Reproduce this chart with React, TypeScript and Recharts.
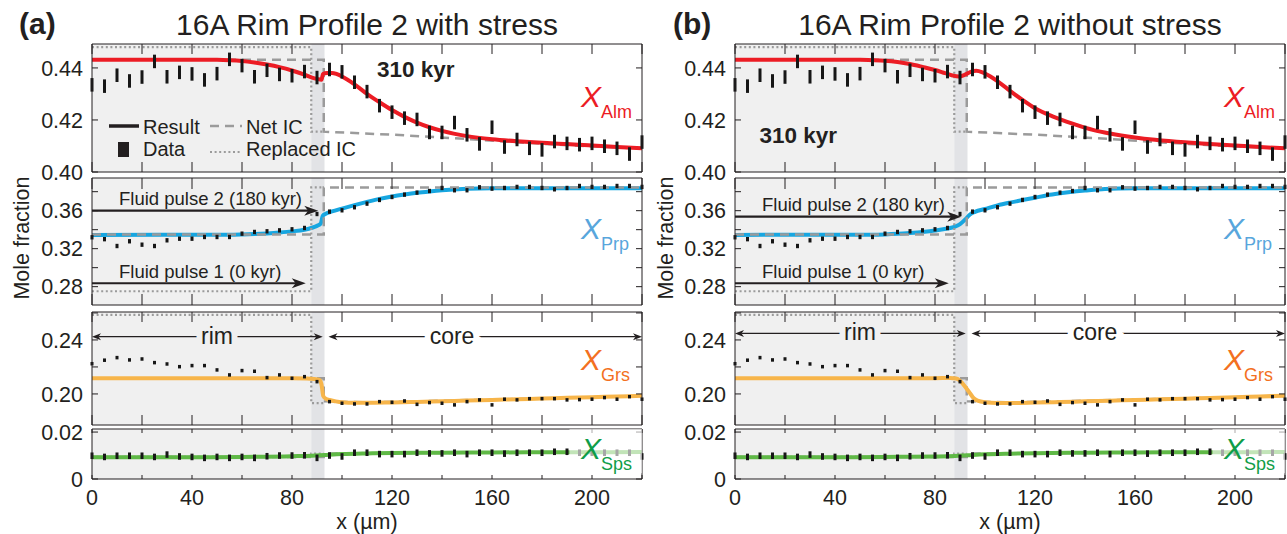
import React from "react";
import {
  ComposedChart,
  Line,
  Scatter,
  ErrorBar,
  XAxis,
  YAxis,
  ReferenceArea,
  ReferenceLine,
  ReferenceDot,
} from "recharts";

const INK = "#231f20";
const IC_GRAY = "#9b9b9b";
const RIM_BG = "#f0f0f0";
const BAND_BG = "#e2e3e6";
const FONT = '"Liberation Sans", Arial, Helvetica, sans-serif';

const ALM_LINE = "#ec1c24";
const PRP_LINE = "#17a6e0";
const PRP_TEXT = "#58a6dc";
const GRS_LINE = "#f7b54a";
const GRS_TEXT = "#f37021";
const SPS_LINE = "#5fb946";
const SPS_TEXT = "#0f9d48";

const RIM_END = 87.7;
const BAND_END = 93;
const X_TICKS = [0, 20, 40, 60, 80, 100, 120, 140, 160, 180, 200, 220];

// measured positions along the profile (µm)
const DIST = [
  0, 5, 10, 15, 20, 25, 30, 35, 40, 45, 50, 55, 60, 65, 70, 75, 80, 85, 90, 95, 100, 105,
  110, 115, 120, 125, 130, 135, 140, 145, 150, 155, 160, 165, 170, 175, 180, 185, 190, 195,
  200, 205, 210, 215, 220,
];

// microprobe data
const ALM_DATA = [
  0.4335, 0.433, 0.4372, 0.435, 0.4365, 0.4425, 0.4366, 0.4383, 0.4377, 0.4354, 0.4378,
  0.4433, 0.4409, 0.4366, 0.4391, 0.4375, 0.437, 0.4386, 0.4363, 0.4394, 0.4385, 0.4345,
  0.4309, 0.4255, 0.423, 0.4207, 0.4202, 0.4152, 0.4152, 0.419, 0.4143, 0.4108, 0.4172,
  0.4096, 0.4125, 0.4091, 0.4085, 0.4117, 0.411, 0.4105, 0.411, 0.4099, 0.4091, 0.4069, 0.4115,
];
const PRP_DATA = [
  0.332, 0.33, 0.3228, 0.3278, 0.3242, 0.3228, 0.3288, 0.3305, 0.3305, 0.3323, 0.3323,
  0.3323, 0.3358, 0.3376, 0.3383, 0.3393, 0.3404, 0.3418, 0.3565, 0.359, 0.3604, 0.3636,
  0.3674, 0.3713, 0.3744, 0.3769, 0.379, 0.3807, 0.3839, 0.3815, 0.3815, 0.3846, 0.3832,
  0.3839, 0.385, 0.385, 0.3839, 0.3825, 0.3839, 0.386, 0.385, 0.385, 0.386, 0.386, 0.385,
];
const GRS_DATA = [
  0.2224, 0.225, 0.2269, 0.2252, 0.2259, 0.2232, 0.2222, 0.2202, 0.221, 0.221, 0.2178,
  0.2141, 0.2173, 0.2168, 0.2121, 0.2141, 0.2116, 0.2128, 0.2091, 0.1943, 0.1931, 0.1926,
  0.1926, 0.1943, 0.1938, 0.1948, 0.1923, 0.1936, 0.1931, 0.1919, 0.1943, 0.1956, 0.1919,
  0.1961, 0.1956, 0.1965, 0.1965, 0.1965, 0.1956, 0.1958, 0.1961, 0.1973, 0.1961, 0.198, 0.1961,
];
const SPS_DATA = [
  0.0099, 0.0094, 0.0099, 0.0099, 0.0099, 0.0094, 0.0104, 0.0096, 0.0094, 0.009, 0.0094,
  0.009, 0.0094, 0.009, 0.0097, 0.01, 0.01, 0.0101, 0.009, 0.01, 0.0096, 0.0112, 0.0112,
  0.0106, 0.0106, 0.0106, 0.0112, 0.0109, 0.0109, 0.0112, 0.0106, 0.0112, 0.0112, 0.0108,
  0.0112, 0.0112, 0.0112, 0.0116, 0.0116, 0.0112, 0.0112, 0.0112, 0.0112, 0.0112, 0.0096,
];
const ALM_ERR = 0.0026;
const PRP_ERR = 0.0023;
const GRS_ERR = 0.0013;
const SPS_ERR = 0.0014;

// model results, with stress (a)
const ALM_A_X = [0, 50, 55, 60, 65, 70, 75, 80, 85, 88, 90, 91.8, 92.4, 94, 96, 98, 100, 105, 110, 115, 120, 125, 130, 135, 140, 150, 160, 170, 180, 190, 200, 210, 220];
const ALM_A_Y = [0.4431, 0.4431, 0.443, 0.4427, 0.4421, 0.4413, 0.4403, 0.439, 0.4374, 0.4363, 0.4358, 0.4355, 0.4377, 0.4381, 0.4381, 0.4376, 0.4367, 0.4337, 0.43, 0.4268, 0.4238, 0.4212, 0.419, 0.4172, 0.4158, 0.4138, 0.4126, 0.4118, 0.4112, 0.4108, 0.4102, 0.4096, 0.4091];
const PRP_A_X = [0, 55, 60, 65, 70, 75, 80, 85, 88, 90, 91.5, 92.3, 93.5, 96, 100, 105, 110, 115, 120, 125, 130, 135, 140, 150, 160, 180, 220];
const PRP_A_Y = [0.3345, 0.3346, 0.3349, 0.3354, 0.3361, 0.337, 0.3382, 0.34, 0.342, 0.344, 0.3465, 0.3545, 0.3568, 0.3592, 0.3622, 0.3658, 0.3692, 0.3724, 0.375, 0.3771, 0.3789, 0.3803, 0.3815, 0.383, 0.3836, 0.3837, 0.3837];
const GRS_A_X = [0, 80, 86, 89, 91, 91.8, 92.5, 93.5, 95, 97.5, 100, 105, 110, 120, 130, 140, 150, 160, 170, 180, 190, 200, 210, 220];
const GRS_A_Y = [0.2117, 0.2117, 0.2115, 0.211, 0.2104, 0.207, 0.1985, 0.1965, 0.1955, 0.1945, 0.1938, 0.1934, 0.1934, 0.1937, 0.1941, 0.1946, 0.1951, 0.1956, 0.1961, 0.1966, 0.1971, 0.1976, 0.1981, 0.1986];
const SPS_A_X = [0, 40, 60, 70, 80, 88, 93, 100, 110, 120, 140, 160, 180, 200, 220];
const SPS_A_Y = [0.0093, 0.0093, 0.0094, 0.0095, 0.0097, 0.0099, 0.0102, 0.0106, 0.0109, 0.0111, 0.0112, 0.0113, 0.0114, 0.0114, 0.0115];

// model results, without stress (b)
const ALM_B_X = [0, 50, 55, 60, 65, 70, 75, 80, 84, 87, 89.5, 92, 94.5, 96.5, 99, 102, 106, 110, 115, 120, 127, 135, 143.5, 150, 160, 168, 180, 190, 200, 210, 220];
const ALM_B_Y = [0.4431, 0.4431, 0.443, 0.4428, 0.4423, 0.4415, 0.4404, 0.4392, 0.438, 0.4371, 0.4367, 0.4374, 0.4386, 0.4389, 0.4383, 0.4368, 0.4342, 0.4312, 0.4277, 0.4245, 0.4214, 0.4186, 0.4161, 0.4148, 0.4133, 0.4124, 0.4114, 0.4108, 0.4102, 0.4096, 0.4091];
const PRP_B_X = [0, 55, 60, 65, 70, 75, 80, 85, 88, 90, 92, 94, 96, 100, 105, 110, 115, 120, 125, 130, 135, 140, 148, 160, 180, 220];
const PRP_B_Y = [0.3345, 0.3347, 0.335, 0.3356, 0.3365, 0.3376, 0.3391, 0.3412, 0.3433, 0.3458, 0.3505, 0.356, 0.3588, 0.3618, 0.3655, 0.3685, 0.3712, 0.3737, 0.3762, 0.3782, 0.38, 0.3812, 0.3828, 0.3835, 0.3837, 0.3837];
const GRS_B_X = [0, 80, 86, 88.5, 90, 92, 94, 95.5, 97, 100, 105, 110, 120, 130, 140, 150, 160, 170, 180, 190, 200, 210, 220];
const GRS_B_Y = [0.2117, 0.2117, 0.2118, 0.2114, 0.2098, 0.2055, 0.2005, 0.1968, 0.195, 0.1938, 0.1933, 0.1933, 0.1936, 0.194, 0.1945, 0.195, 0.1955, 0.196, 0.1965, 0.197, 0.1975, 0.1981, 0.1987];
const SPS_B_X = [0, 40, 60, 70, 80, 88, 93, 100, 110, 120, 140, 160, 180, 200, 220];
const SPS_B_Y = [0.0093, 0.0093, 0.0094, 0.0095, 0.0096, 0.0098, 0.0101, 0.0105, 0.0108, 0.011, 0.0112, 0.0113, 0.0114, 0.0114, 0.0115];

// initial conditions
const NET_ALM_X = [0, 92.7, 92.7, 123, 150, 165, 190, 220];
const NET_ALM_Y = [0.4431, 0.4431, 0.4155, 0.4142, 0.4127, 0.4117, 0.4103, 0.409];
const REP_ALM_X = [0, 87.7, 87.7, 92.7];
const REP_ALM_Y = [0.448, 0.448, 0.4155, 0.4155];
const NET_PRP_X = [0, 92.7, 92.7, 220];
const NET_PRP_Y = [0.335, 0.335, 0.3845, 0.3845];
const REP_PRP_X = [0, 87.7, 87.7, 92.7];
const REP_PRP_Y = [0.2752, 0.2752, 0.3845, 0.3845];
const NET_GRS_X = [0, 92.7, 92.7, 110, 220];
const NET_GRS_Y = [0.2117, 0.2117, 0.1945, 0.1937, 0.1985];
const REP_GRS_X = [0, 87.7, 87.7, 92.7];
const REP_GRS_Y = [0.2585, 0.2585, 0.1932, 0.1932];
const NET_SPS_X = [0, 92.7, 92.7, 220];
const NET_SPS_Y = [0.0094, 0.0094, 0.0108, 0.0116];
const REP_SPS_X = [0, 87.7, 87.7, 92.7];
const REP_SPS_Y = [0.0094, 0.0094, 0.0108, 0.0108];

type Row = {
  top: number;
  h: number;
  domain: [number, number];
  ticks: number[];
  labels: number[];
  xTick: number;
};

const ROWS: Row[] = [
  { top: 44, h: 128, domain: [0.4, 0.4492], ticks: [0.4, 0.42, 0.44], labels: [0.4, 0.42, 0.44], xTick: 10 },
  { top: 178, h: 127, domain: [0.2607, 0.3944], ticks: [0.28, 0.3, 0.32, 0.34, 0.36, 0.38], labels: [0.28, 0.32, 0.36], xTick: 11 },
  { top: 312, h: 113, domain: [0.177, 0.2607], ticks: [0.2, 0.22, 0.24, 0.26], labels: [0.2, 0.24], xTick: 10 },
  { top: 429, h: 50, domain: [0, 0.0213], ticks: [0, 0.02], labels: [0, 0.02], xTick: 4 },
];

const PLOT_W = 550;
const YW = 70;
const PAD = 14;

const pts = (xs: number[], ys: number[]) => xs.map((x, i) => ({ x, y: ys[i] }));
const withErr = (ys: number[], e: number) => DIST.map((x, i) => ({ x, y: ys[i], e }));
const noShape = () => <g />;

function arrow(o: { l?: boolean; r?: boolean; len: number; half: number; sw: number; color?: string }) {
  const c = o.color || INK;
  return (p: any) => {
    const a = Math.min(p.x1, p.x2);
    const b = Math.max(p.x1, p.x2);
    const y = p.y1;
    const s = o.l ? a + o.len * 0.7 : a;
    const e = o.r ? b - o.len * 0.7 : b;
    return (
      <g>
        <line x1={s} y1={y} x2={e} y2={y} stroke={c} strokeWidth={o.sw} />
        {o.r && (
          <polygon
            points={`${b},${y} ${b - o.len},${y - o.half} ${b - o.len * 0.72},${y} ${b - o.len},${y + o.half}`}
            fill={c}
          />
        )}
        {o.l && (
          <polygon
            points={`${a},${y} ${a + o.len},${y - o.half} ${a + o.len * 0.72},${y} ${a + o.len},${y + o.half}`}
            fill={c}
          />
        )}
      </g>
    );
  };
}

function textShape(content: string, style: React.SVGProps<SVGTextElement>, dx = 0, dy = 0) {
  return (p: any) => (
    <text x={p.cx + dx} y={p.cy + dy} {...style}>
      {content}
    </text>
  );
}

function xLabel(sub: string, color: string) {
  return (p: any) => (
    <g>
      <text x={p.cx - 1} y={p.cy} fontSize={30} fontStyle="italic" fill={color}>
        X
      </text>
      <text x={p.cx + 19} y={p.cy + 11} fontSize={18} fill={color}>
        {sub}
      </text>
    </g>
  );
}

function Sub({ left, row, bottom, children }: { left: number; row: Row; bottom?: boolean; children: React.ReactNode }) {
  const xh = bottom ? 36 : 1;
  const mb = bottom ? 2 : PAD;
  const w = YW + PLOT_W + 1 + 4;
  const h = PAD + 1 + row.h + xh + mb;
  const xFmt = (v: number) => (bottom && v % 40 === 0 && v < 220 ? String(v) : "");
  const yFmt = (v: number) =>
    row.labels.some((l) => Math.abs(l - v) < 1e-9) ? (v === 0 ? "0" : v.toFixed(2)) : "";
  const blank = () => "";
  const tickStyle = { fontSize: 21.5, fill: INK };
  return (
    <div style={{ position: "absolute", left: left - YW, top: row.top - PAD - 1 }}>
      <ComposedChart width={w} height={h} margin={{ top: PAD, right: 4, bottom: mb, left: 0 }}>
        <ReferenceArea x1={0} x2={RIM_END} fill={RIM_BG} fillOpacity={1} stroke="none" zIndex={-10} />
        <ReferenceArea x1={RIM_END} x2={BAND_END} fill={BAND_BG} fillOpacity={1} stroke="none" zIndex={-10} />
        {children}
        <XAxis
          type="number"
          dataKey="x"
          domain={[0, 220]}
          allowDataOverflow
          ticks={X_TICKS}
          interval={0}
          height={xh}
          tickSize={-row.xTick}
          tickMargin={row.xTick + 11}
          tick={tickStyle}
          tickFormatter={xFmt}
          axisLine={{ stroke: INK }}
          tickLine={{ stroke: INK }}
        />
        <XAxis
          xAxisId="top"
          orientation="top"
          type="number"
          dataKey="x"
          domain={[0, 220]}
          allowDataOverflow
          ticks={X_TICKS}
          interval={0}
          height={1}
          tickSize={-row.xTick}
          tick={tickStyle}
          tickFormatter={blank}
          axisLine={{ stroke: INK }}
          tickLine={{ stroke: INK }}
        />
        <YAxis
          type="number"
          domain={row.domain}
          allowDataOverflow
          ticks={row.ticks}
          interval={0}
          width={YW}
          tickSize={-6}
          tickMargin={15}
          tick={tickStyle}
          tickFormatter={yFmt}
          axisLine={{ stroke: INK }}
          tickLine={{ stroke: INK }}
        />
        <YAxis
          yAxisId="r"
          orientation="right"
          type="number"
          domain={row.domain}
          allowDataOverflow
          ticks={row.ticks}
          interval={0}
          width={1}
          tickSize={-6}
          tick={tickStyle}
          tickFormatter={blank}
          axisLine={{ stroke: INK }}
          tickLine={{ stroke: INK }}
        />
      </ComposedChart>
    </div>
  );
}

function icLines(key: string, repX: number[], repY: number[], netX: number[], netY: number[]) {
  return [
    <Line key={key + "rep"} data={pts(repX, repY)} dataKey="y" type="linear" stroke={IC_GRAY} strokeWidth={2.2} strokeDasharray="2 2.6" dot={false} activeDot={false} isAnimationActive={false} />,
    <Line key={key + "net"} data={pts(netX, netY)} dataKey="y" type="linear" stroke={IC_GRAY} strokeWidth={2.5} strokeDasharray="9 6" dot={false} activeDot={false} isAnimationActive={false} />,
  ];
}

function result(key: string, xs: number[], ys: number[], color: string) {
  return (
    <Line key={key} data={pts(xs, ys)} dataKey="y" type="monotone" stroke={color} strokeWidth={4} dot={false} activeDot={false} isAnimationActive={false} />
  );
}

function dataBars(key: string, ys: number[], err: number) {
  return (
    <Scatter key={key} data={withErr(ys, err)} dataKey="y" fill={INK} shape={noShape} isAnimationActive={false}>
      <ErrorBar dataKey="e" direction="y" width={0} strokeWidth={3} stroke="#161616" isAnimationActive={false} />
    </Scatter>
  );
}

const small = { fontSize: 18.5, fill: INK };

function Panel({ left, stress }: { left: number; stress: boolean }) {
  const alm = stress ? [ALM_A_X, ALM_A_Y] : [ALM_B_X, ALM_B_Y];
  const prp = stress ? [PRP_A_X, PRP_A_Y] : [PRP_B_X, PRP_B_Y];
  const grs = stress ? [GRS_A_X, GRS_A_Y] : [GRS_B_X, GRS_B_Y];
  const sps = stress ? [SPS_A_X, SPS_A_Y] : [SPS_B_X, SPS_B_Y];
  const kyr = stress ? { x: 114, y: 0.4365 } : { x: 9.8, y: 0.4112 };
  const pulse2Y = stress ? 0.36 : 0.3537;
  const rimY = stress ? 0.2424 : 0.2448;
  return (
    <>
      <Sub left={left} row={ROWS[0]}>
        {icLines("alm", REP_ALM_X, REP_ALM_Y, NET_ALM_X, NET_ALM_Y)}
        {result("almres", alm[0], alm[1], ALM_LINE)}
        {dataBars("almdat", ALM_DATA, ALM_ERR)}
        <ReferenceDot x={196} y={0.425} r={1} shape={xLabel("Alm", ALM_LINE)} />
        <ReferenceDot x={kyr.x} y={kyr.y} r={1} shape={textShape("310 kyr", { fontSize: 22.5, fontWeight: 700, fill: INK })} />
      </Sub>
      <Sub left={left} row={ROWS[1]}>
        {result("prpres", prp[0], prp[1], PRP_LINE)}
        {icLines("prp", REP_PRP_X, REP_PRP_Y, NET_PRP_X, NET_PRP_Y)}
        {dataBars("prpdat", PRP_DATA, PRP_ERR)}
        <ReferenceLine segment={[{ x: 0, y: pulse2Y }, { x: 90.5, y: pulse2Y }]} shape={arrow({ r: true, len: 14, half: 5, sw: 2.2 })} />
        <ReferenceLine segment={[{ x: 0, y: 0.2836 }, { x: 85.5, y: 0.2836 }]} shape={arrow({ r: true, len: 14, half: 5, sw: 2.2 })} />
        <ReferenceDot x={10.8} y={pulse2Y} r={1} shape={textShape("Fluid pulse 2 (180 kyr)", small, 0, -5.5)} />
        <ReferenceDot x={10.8} y={0.2836} r={1} shape={textShape("Fluid pulse 1 (0 kyr)", small, 0, -5.5)} />
        <ReferenceDot x={196} y={0.3302} r={1} shape={xLabel("Prp", PRP_TEXT)} />
      </Sub>
      <Sub left={left} row={ROWS[2]}>
        {icLines("grs", REP_GRS_X, REP_GRS_Y, NET_GRS_X, NET_GRS_Y)}
        {result("grsres", grs[0], grs[1], GRS_LINE)}
        {dataBars("grsdat", GRS_DATA, GRS_ERR)}
        <ReferenceLine segment={[{ x: 0, y: rimY }, { x: 92.3, y: rimY }]} shape={arrow({ l: true, r: true, len: 9, half: 3.5, sw: 1.2 })} />
        <ReferenceLine segment={[{ x: 94.6, y: rimY }, { x: 220, y: rimY }]} shape={arrow({ l: true, r: true, len: 9, half: 3.5, sw: 1.2 })} />
        <ReferenceDot x={50} y={rimY} r={1} shape={textShape("rim", { fontSize: 23, fill: INK, textAnchor: "middle", stroke: RIM_BG, strokeWidth: 12, paintOrder: "stroke" }, 0, 7)} />
        <ReferenceDot x={144} y={rimY} r={1} shape={textShape("core", { fontSize: 23, fill: INK, textAnchor: "middle", stroke: "#ffffff", strokeWidth: 12, paintOrder: "stroke" }, 0, 7)} />
        <ReferenceDot x={196} y={0.2177} r={1} shape={xLabel("Grs", GRS_TEXT)} />
      </Sub>
      <Sub left={left} row={ROWS[3]} bottom>
        {icLines("sps", REP_SPS_X, REP_SPS_Y, NET_SPS_X, NET_SPS_Y)}
        {result("spsres", sps[0], sps[1], SPS_LINE)}
        {dataBars("spsdat", SPS_DATA, SPS_ERR)}
        <ReferenceArea x1={191} x2={220} y1={0.0025} y2={0.0213} fill="#ffffff" fillOpacity={0.62} stroke="none" zIndex={1500} />
        <ReferenceDot x={196} y={0.0085} r={1} shape={xLabel("Sps", SPS_TEXT)} zIndex={1600} />
      </Sub>
    </>
  );
}

function Overlay() {
  return (
    <svg width={1287} height={534} style={{ position: "absolute", left: 0, top: 0, pointerEvents: "none" }}>
      <g fontFamily={FONT} fill={INK}>
        <text x={19} y={34} fontSize={30} fontWeight={700}>(a)</text>
        <text x={367} y={35} fontSize={30} textAnchor="middle">16A Rim Profile 2 with stress</text>
        <text x={673} y={34} fontSize={30} fontWeight={700}>(b)</text>
        <text x={1010} y={35} fontSize={30} textAnchor="middle">16A Rim Profile 2 without stress</text>

        <text transform="translate(29,238) rotate(-90)" fontSize={21.5} textAnchor="middle">Mole fraction</text>
        <text transform="translate(673,238) rotate(-90)" fontSize={21.5} textAnchor="middle">Mole fraction</text>
        <text x={367} y={529} fontSize={21.5} textAnchor="middle">x (µm)</text>
        <text x={1010} y={529} fontSize={21.5} textAnchor="middle">x (µm)</text>

        {/* legend, panel a */}
        <line x1={109} y1={126} x2={139} y2={126} stroke={INK} strokeWidth={3.5} />
        <text x={143} y={134} fontSize={20}>Result</text>
        <rect x={118} y={142} width={11} height={15} fill={INK} />
        <text x={143} y={156} fontSize={20}>Data</text>
        <line x1={210} y1={126} x2={242} y2={126} stroke={IC_GRAY} strokeWidth={2.5} strokeDasharray="9 6" />
        <text x={246} y={134} fontSize={20}>Net IC</text>
        <line x1={210} y1={152} x2={242} y2={152} stroke={IC_GRAY} strokeWidth={2.2} strokeDasharray="2 2.6" />
        <text x={246} y={156} fontSize={20}>Replaced IC</text>
      </g>
    </svg>
  );
}

export default function App() {
  return (
    <div
      style={{
        position: "absolute",
        left: 0,
        top: 0,
        width: 1287,
        height: 534,
        background: "#fff",
        fontFamily: FONT,
        overflow: "hidden",
      }}
    >
      <Panel left={92} stress />
      <Panel left={735} stress={false} />
      <Overlay />
    </div>
  );
}
